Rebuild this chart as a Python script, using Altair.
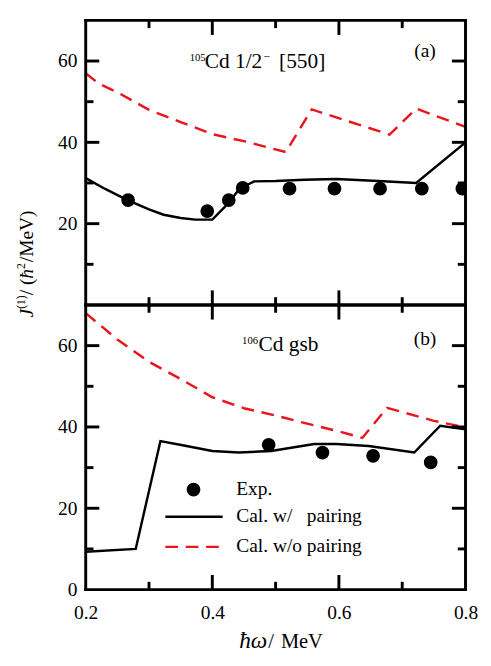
import altair as alt
import pandas as pd

# ---------------- data ----------------
# Panel (a): 105Cd 1/2- [550]
a_pair_x = [0.200, 0.230, 0.266, 0.300, 0.323, 0.350, 0.373, 0.400, 0.424, 0.443, 0.466, 0.500, 0.545, 0.596, 0.662, 0.722, 0.800]
a_pair_y = [31.2, 28.6, 25.8, 23.5, 22.2, 21.4, 21.0, 21.0, 24.8, 28.6, 30.4, 30.5, 30.8, 31.0, 30.5, 30.0, 40.0]
a_nopair_x = [0.200, 0.220, 0.250, 0.300, 0.350, 0.400, 0.458, 0.516, 0.557, 0.680, 0.722, 0.800]
a_nopair_y = [57.0, 54.5, 52.3, 48.0, 45.0, 42.0, 40.0, 37.6, 48.1, 41.9, 48.3, 43.8]
a_exp_x = [0.267, 0.392, 0.426, 0.448, 0.522, 0.593, 0.665, 0.731, 0.795]
a_exp_y = [25.8, 23.1, 25.8, 28.8, 28.6, 28.6, 28.6, 28.6, 28.6]

# Panel (b): 106Cd gsb
b_pair_x = [0.200, 0.279, 0.318, 0.353, 0.400, 0.442, 0.493, 0.561, 0.596, 0.647, 0.719, 0.760, 0.800]
b_pair_y = [9.3, 10.0, 36.5, 35.5, 34.1, 33.7, 34.1, 35.8, 35.8, 35.3, 33.7, 40.3, 39.4]
b_nopair_x = [0.200, 0.250, 0.300, 0.350, 0.400, 0.450, 0.500, 0.550, 0.600, 0.637, 0.676, 0.750, 0.800]
b_nopair_y = [68.0, 61.5, 56.0, 51.8, 47.3, 44.6, 42.8, 40.8, 38.9, 37.3, 44.7, 41.5, 39.9]
b_exp_x = [0.489, 0.574, 0.654, 0.745]
b_exp_y = [35.6, 33.7, 32.9, 31.3]

# ticks / labels
x_label_vals = [0.2, 0.4, 0.6, 0.8]
x_major = [0.4, 0.6]
x_minor = [0.3, 0.5, 0.7]
y_major = [20, 40, 60]
y_minor = [10, 30, 50]
a_y_labels = [20, 40, 60]
b_y_labels = [0, 20, 40, 60]

# annotations (data coordinates)
a_note_x = [0.3642, 0.3880, 0.4808, 0.5054]
a_note_y = [60.0, 58.3, 60.2, 58.3]
a_note_t = ["105", "Cd 1/2", "\u2212", "[550]"]
a_note_s = [11, 22, 12, 22]
b_note_x = [0.4470, 0.4731]
b_note_y = [60.4, 58.8]
b_note_t = ["106", "Cd gsb"]
b_note_s = [11, 22]
panel_tag_x = 0.736
a_tag_y = 60.9
b_tag_y = 60.2

# legend (data coordinates, panel b)
leg_dot_x, leg_dot_y = 0.3703, 24.6
leg_line_x = [0.3258, 0.4164]
leg_solid_y = 17.9
leg_dash_y = 10.5
leg_text_x = 0.4378
leg_text_y = [23.2, 16.5, 9.3]
leg_text = ["Exp.", "Cal. w/\u00a0\u00a0\u00a0pairing", "Cal. w/o pairing"]

# ---------------- styling ----------------
FONT = "Liberation Serif"
W, H = 391, 293
RED = "#e8161b"
LW = 2.5
DASH = [13, 8]
X0, X1, Y0, Y1 = 0.2, 0.8, 0, 70

x_scale = alt.Scale(domain=[X0, X1], nice=False, zero=False)
y_scale = alt.Scale(domain=[Y0, Y1], nice=False, zero=False)


def to_px_x(v):
    return (v - X0) / (X1 - X0) * W


def to_px_y(v):
    return H - (v - Y0) / (Y1 - Y0) * H


def encoders(show_x, y_vals):
    if show_x:
        xax = alt.Axis(values=x_label_vals, format=".1f", labelFont=FONT, labelFontSize=20,
                       labelColor="black", labelPadding=14, ticks=False, tickSize=0,
                       domain=False, grid=False, title=None, labelFlush=False)
    else:
        xax = None
    yax = alt.Axis(values=y_vals, labelFont=FONT, labelFontSize=20, labelColor="black",
                   labelPadding=9, ticks=False, tickSize=0, domain=False, grid=False, title=None)

    def X():
        return alt.X("x:Q", scale=x_scale, axis=xax)

    def Y():
        return alt.Y("y:Q", scale=y_scale, axis=yax)

    return X, Y


def one_row():
    return alt.Chart(pd.DataFrame({"k": [0]}))


def frame_layers():
    r = one_row().mark_rule(color="black", strokeWidth=3, strokeCap="square")
    return [
        r.encode(x=alt.value(0), x2=alt.value(W), y=alt.value(0)),
        r.encode(x=alt.value(0), x2=alt.value(W), y=alt.value(H)),
        r.encode(x=alt.value(0), y=alt.value(0), y2=alt.value(H)),
        r.encode(x=alt.value(W), y=alt.value(0), y2=alt.value(H)),
    ]


def tick_layers():
    # inward ticks on all four sides (axis decoration), drawn as thin rectangles
    r = one_row().mark_rect(color="black", opacity=1)
    layers = []
    for vals, L in [(x_major, 15), (x_minor, 8)]:
        for v in vals:
            p = to_px_x(v)
            layers.append(r.encode(x=alt.value(p - 1.5), x2=alt.value(p + 1.5),
                                   y=alt.value(0), y2=alt.value(L)))
            layers.append(r.encode(x=alt.value(p - 1.5), x2=alt.value(p + 1.5),
                                   y=alt.value(H - L), y2=alt.value(H)))
    for vals, L in [(y_major, 14), (y_minor, 8)]:
        for v in vals:
            p = to_px_y(v)
            layers.append(r.encode(y=alt.value(p - 1.5), y2=alt.value(p + 1.5),
                                   x=alt.value(0), x2=alt.value(L)))
            layers.append(r.encode(y=alt.value(p - 1.5), y2=alt.value(p + 1.5),
                                   x=alt.value(W - L), x2=alt.value(W)))
    return layers


def data_layers(X, Y, px, py, nx, ny, ex, ey):
    dp = pd.DataFrame({"x": px, "y": py, "i": range(len(px))})
    dn = pd.DataFrame({"x": nx, "y": ny, "i": range(len(nx))})
    de = pd.DataFrame({"x": ex, "y": ey})
    red = alt.Chart(dn).mark_line(color=RED, strokeWidth=LW, strokeDash=DASH, clip=True).encode(
        x=X(), y=Y(), order="i:Q")
    blk = alt.Chart(dp).mark_line(color="black", strokeWidth=LW, clip=True).encode(
        x=X(), y=Y(), order="i:Q")
    pts = alt.Chart(de).mark_circle(size=200, color="black", opacity=1, clip=True).encode(
        x=X(), y=Y())
    return [red, blk, pts]


def text_layer(X, Y, xs, ys, ts, sizes, align="left"):
    df = pd.DataFrame({"x": xs, "y": ys, "t": ts, "s": sizes})
    return alt.Chart(df).mark_text(font=FONT, align=align, baseline="alphabetic", color="black").encode(
        x=X(), y=Y(), text="t:N", size=alt.Size("s:Q", scale=None, legend=None))


def px_text(t, x, y, size=20, style="normal", angle=0):
    return alt.Chart(pd.DataFrame({"t": [t]})).mark_text(
        font=FONT, fontSize=size, fontStyle=style, angle=angle, align="left",
        baseline="alphabetic", color="black").encode(x=alt.value(x), y=alt.value(y), text="t:N")


# ---------------- panel (a) ----------------
Xa, Ya = encoders(False, a_y_labels)
layers_a = data_layers(Xa, Ya, a_pair_x, a_pair_y, a_nopair_x, a_nopair_y, a_exp_x, a_exp_y)
layers_a += frame_layers()
layers_a.append(text_layer(Xa, Ya, a_note_x, a_note_y, a_note_t, a_note_s))
layers_a.append(text_layer(Xa, Ya, [panel_tag_x], [a_tag_y], ["(a)"], [20], align="center"))
layers_a += tick_layers()
panel_a = alt.layer(*layers_a).properties(width=W, height=H)

# ---------------- panel (b) ----------------
Xb, Yb = encoders(True, b_y_labels)
layers_b = data_layers(Xb, Yb, b_pair_x, b_pair_y, b_nopair_x, b_nopair_y, b_exp_x, b_exp_y)
layers_b += frame_layers()
layers_b.append(text_layer(Xb, Yb, b_note_x, b_note_y, b_note_t, b_note_s))
layers_b.append(text_layer(Xb, Yb, [panel_tag_x], [b_tag_y], ["(b)"], [20], align="center"))

# legend
layers_b.append(alt.Chart(pd.DataFrame({"x": [leg_dot_x], "y": [leg_dot_y]})).mark_circle(
    size=200, color="black", opacity=1).encode(x=Xb(), y=Yb()))
layers_b.append(alt.Chart(pd.DataFrame({"x": leg_line_x, "y": [leg_solid_y] * 2})).mark_line(
    color="black", strokeWidth=LW).encode(x=Xb(), y=Yb()))
layers_b.append(alt.Chart(pd.DataFrame({"x": leg_line_x, "y": [leg_dash_y] * 2})).mark_line(
    color=RED, strokeWidth=LW, strokeDash=DASH).encode(x=Xb(), y=Yb()))
layers_b.append(text_layer(Xb, Yb, [leg_text_x] * 3, leg_text_y, leg_text, [20] * 3))

# y-axis title J(1)/(ħ²/MeV) (rotated pieces), x-axis title ħω/MeV
layers_b += [
    px_text("J", -54, 13, 20, "italic", 270),
    px_text("(1)", -62, 4, 12, "normal", 270),
    px_text("/\u00a0(", -54, -10, 20, "normal", 270),
    px_text("\u0127", -54, -27, 20, "italic", 270),
    px_text("2", -62, -37, 12, "normal", 270),
    px_text("/MeV)", -54, -44, 20, "normal", 270),
    px_text("\u0127\u03c9", 158, 353, 24, "italic"),
    px_text("/", 188, 353, 21, "normal"),
    px_text("MeV", 201, 353, 21, "normal"),
]
layers_b += tick_layers()
panel_b = alt.layer(*layers_b).properties(width=W, height=H)

chart = alt.vconcat(panel_a, panel_b, spacing=0, bounds="flush").properties(
    padding={"left": 7, "top": 0, "right": 5, "bottom": 5},
    background="white",
)

chart.save("out.html", embed_options={"renderer": "svg", "actions": False})
